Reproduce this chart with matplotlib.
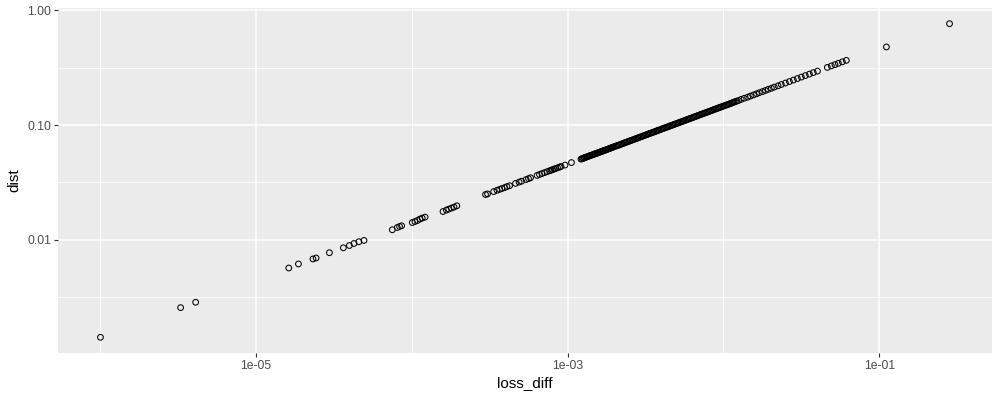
import numpy as np
import matplotlib
matplotlib.use('Agg')
import matplotlib.pyplot as plt
from matplotlib.ticker import FixedLocator, NullFormatter

# points, left to right
loss_diff = [1.01e-6, 3.30e-6, 4.12e-6, 1.63e-5, 1.88e-5, 2.33e-5, 2.44e-5, 2.97e-5, 3.65e-5, 3.99e-5,
             4.27e-5, 4.59e-5, 4.95e-5,
             7.52e-5, 8.09e-5, 8.37e-5, 8.63e-5, 1.01e-4, 1.05e-4, 1.09e-4, 1.13e-4, 1.17e-4, 1.22e-4,
             1.59e-4, 1.67e-4, 1.73e-4, 1.80e-4, 1.87e-4, 1.95e-4,
             2.98e-4, 3.07e-4, 3.36e-4, 3.53e-4, 3.67e-4, 3.80e-4, 3.95e-4, 4.09e-4, 4.25e-4, 4.64e-4,
             4.89e-4, 5.07e-4, 5.42e-4, 5.62e-4, 5.79e-4,
             6.38e-4, 6.61e-4, 6.86e-4, 7.12e-4, 7.39e-4, 7.67e-4, 7.84e-4, 8.01e-4, 8.19e-4, 8.38e-4,
             8.63e-4, 8.89e-4, 9.08e-4, 9.64e-4, 1.06e-3,
             1.22e-3, 1.26e-3, 1.29e-3, 1.33e-3, 1.37e-3, 1.41e-3, 1.46e-3, 1.50e-3, 1.55e-3, 1.59e-3,
             1.64e-3, 1.69e-3, 1.74e-3, 1.79e-3, 1.85e-3, 1.90e-3, 1.96e-3, 2.03e-3, 2.11e-3, 2.19e-3,
             2.27e-3, 2.35e-3, 2.44e-3, 2.53e-3, 2.63e-3, 2.73e-3, 2.83e-3, 2.94e-3, 3.05e-3, 3.16e-3,
             3.28e-3, 3.40e-3, 3.53e-3, 3.67e-3, 3.80e-3, 3.95e-3, 4.09e-3, 4.25e-3, 4.41e-3, 4.57e-3,
             4.75e-3, 4.92e-3, 5.11e-3, 5.30e-3, 5.50e-3, 5.71e-3, 5.92e-3, 6.14e-3, 6.38e-3, 6.61e-3,
             6.86e-3, 7.12e-3,
             7.39e-3, 7.67e-3, 7.95e-3, 8.25e-3, 8.56e-3, 8.89e-3, 9.22e-3, 9.57e-3, 9.93e-3, 1.03e-2,
             1.07e-2, 1.11e-2, 1.15e-2, 1.19e-2, 1.25e-2, 1.30e-2, 1.36e-2, 1.43e-2, 1.49e-2, 1.56e-2,
             1.63e-2, 1.70e-2, 1.78e-2, 1.86e-2, 1.94e-2, 2.03e-2, 2.12e-2, 2.24e-2, 2.35e-2, 2.50e-2,
             2.65e-2, 2.81e-2, 2.98e-2, 3.16e-2, 3.35e-2, 3.56e-2, 3.77e-2, 4.01e-2,
             4.64e-2, 4.92e-2, 5.19e-2, 5.46e-2, 5.79e-2, 6.14e-2,
             0.111, 0.282,
             # crowded stretch, points sitting between the ones above
             1.24e-3, 1.28e-3, 1.31e-3, 1.35e-3, 1.39e-3, 1.44e-3, 1.48e-3, 1.52e-3, 1.57e-3, 1.62e-3,
             1.66e-3, 1.71e-3, 1.77e-3, 1.82e-3, 1.87e-3, 1.93e-3,
             1.99e-3, 2.07e-3, 2.15e-3, 2.23e-3, 2.31e-3, 2.40e-3, 2.49e-3, 2.58e-3, 2.68e-3, 2.78e-3,
             2.88e-3, 2.99e-3, 3.10e-3, 3.22e-3, 3.34e-3, 3.47e-3, 3.60e-3, 3.73e-3, 3.87e-3, 4.02e-3,
             4.17e-3, 4.33e-3, 4.49e-3, 4.66e-3, 4.83e-3, 5.02e-3, 5.20e-3, 5.40e-3, 5.60e-3, 5.81e-3,
             6.03e-3, 6.26e-3, 6.49e-3, 6.74e-3, 6.99e-3,
             7.25e-3, 7.53e-3, 7.81e-3, 8.10e-3, 8.41e-3, 8.72e-3, 9.05e-3, 9.39e-3, 9.74e-3, 1.01e-2,
             1.05e-2, 1.09e-2, 1.13e-2, 1.17e-2, 1.22e-2]

dist = [0.00141, 0.00256, 0.00285, 0.00567, 0.00615, 0.00680, 0.00693, 0.00771, 0.00851, 0.00891,
        0.00928, 0.00961, 0.00987,
        0.01222, 0.01279, 0.01305, 0.01324, 0.01413, 0.01442, 0.01472, 0.01514, 0.01545, 0.01575,
        0.01762, 0.01813, 0.01849, 0.01888, 0.01925, 0.01977,
        0.0248, 0.0251, 0.0263, 0.0270, 0.0275, 0.0280, 0.0285, 0.0291, 0.0296, 0.0310,
        0.0318, 0.0324, 0.0335, 0.0341, 0.0347,
        0.0364, 0.0371, 0.0378, 0.0385, 0.0392, 0.0399, 0.0404, 0.0408, 0.0413, 0.0418,
        0.0424, 0.0430, 0.0435, 0.0448, 0.0471,
        0.0505, 0.0513, 0.0521, 0.0528, 0.0536, 0.0544, 0.0553, 0.0561, 0.0569, 0.0578,
        0.0587, 0.0595, 0.0604, 0.0613, 0.0623, 0.0632, 0.0642, 0.0654, 0.0666, 0.0679,
        0.0691, 0.0704, 0.0718, 0.0731, 0.0745, 0.0759, 0.0773, 0.0788, 0.0803, 0.0818,
        0.0833, 0.0849, 0.0865, 0.0881, 0.0898, 0.0915, 0.0932, 0.0950, 0.0967, 0.0986,
        0.1004, 0.1023, 0.1042, 0.1062, 0.1082, 0.1102, 0.1123, 0.1144, 0.1166, 0.1188,
        0.1210, 0.1233,
        0.1256, 0.1280, 0.1304, 0.1329, 0.1354, 0.1380, 0.1405, 0.1432, 0.1459, 0.1486,
        0.1514, 0.1543, 0.1572, 0.1601, 0.1638, 0.1675, 0.1713, 0.1751, 0.1791, 0.1832,
        0.1873, 0.1916, 0.1959, 0.2004, 0.2049, 0.2096, 0.2143, 0.2200, 0.2258, 0.2326,
        0.2396, 0.2469, 0.2544, 0.2621, 0.2701, 0.2783, 0.2868, 0.2954,
        0.3184, 0.3281, 0.3367, 0.3456, 0.3560, 0.3668,
        0.480, 0.766,
        0.0509, 0.0517, 0.0524, 0.0532, 0.0540, 0.0549, 0.0557, 0.0565, 0.0574, 0.0582,
        0.0591, 0.0600, 0.0609, 0.0618, 0.0627, 0.0637,
        0.0648, 0.0660, 0.0672, 0.0685, 0.0698, 0.0711, 0.0724, 0.0738, 0.0752, 0.0766,
        0.0781, 0.0795, 0.0810, 0.0825, 0.0841, 0.0857, 0.0873, 0.0890, 0.0906, 0.0924,
        0.0941, 0.0959, 0.0977, 0.0995, 0.1014, 0.1033, 0.1052, 0.1072, 0.1092, 0.1113,
        0.1134, 0.1155, 0.1177, 0.1199, 0.1222,
        0.1245, 0.1268, 0.1292, 0.1316, 0.1341, 0.1367, 0.1392, 0.1418, 0.1445, 0.1472,
        0.1500, 0.1529, 0.1557, 0.1586, 0.1620]

x_ticks = [1e-5, 1e-3, 1e-1]
x_labels = ['1e-05', '1e-03', '1e-01']
x_minor = [1e-6, 1e-4, 1e-2]
y_ticks = [0.01, 0.1, 1.0]
y_labels = ['0.01', '0.10', '1.00']
y_minor = [0.00316, 0.0316, 0.316]

plt.rcParams['font.family'] = ['Liberation Sans', 'DejaVu Sans']

fig = plt.figure(figsize=(10, 4), dpi=100)
ax = fig.add_axes([0.058, 0.1175, 0.934, 0.8625])
ax.set_facecolor('#EBEBEB')

ax.scatter(loss_diff, dist, s=17, facecolors='none', edgecolors='black', linewidths=0.75, zorder=3)
ax.set_xscale('log')
ax.set_yscale('log')

# ggplot style 5% expansion on log scale
lx = np.log10(loss_diff)
ly = np.log10(dist)
px = 0.05 * (lx.max() - lx.min())
py = 0.05 * (ly.max() - ly.min())
ax.set_xlim(10 ** (lx.min() - px), 10 ** (lx.max() + px))
ax.set_ylim(10 ** (ly.min() - py), 10 ** (ly.max() + py))

ax.xaxis.set_major_locator(FixedLocator(x_ticks))
ax.set_xticklabels(x_labels)
ax.xaxis.set_minor_locator(FixedLocator(x_minor))
ax.xaxis.set_minor_formatter(NullFormatter())
ax.yaxis.set_major_locator(FixedLocator(y_ticks))
ax.set_yticklabels(y_labels)
ax.yaxis.set_minor_locator(FixedLocator(y_minor))
ax.yaxis.set_minor_formatter(NullFormatter())

ax.grid(which='major', color='white', linewidth=1.1)
ax.grid(which='minor', color='white', linewidth=0.55)
ax.set_axisbelow(True)
for s in ax.spines.values():
    s.set_visible(False)

ax.tick_params(which='major', length=3, width=0.8, color='#333333', labelcolor='#4D4D4D',
               labelsize=8.8, pad=2)
ax.tick_params(which='minor', length=0)

ax.set_xlabel('loss_diff', fontsize=11, labelpad=3)
ax.set_ylabel('dist', fontsize=11, labelpad=4)

plt.savefig('out.png', dpi=100)
